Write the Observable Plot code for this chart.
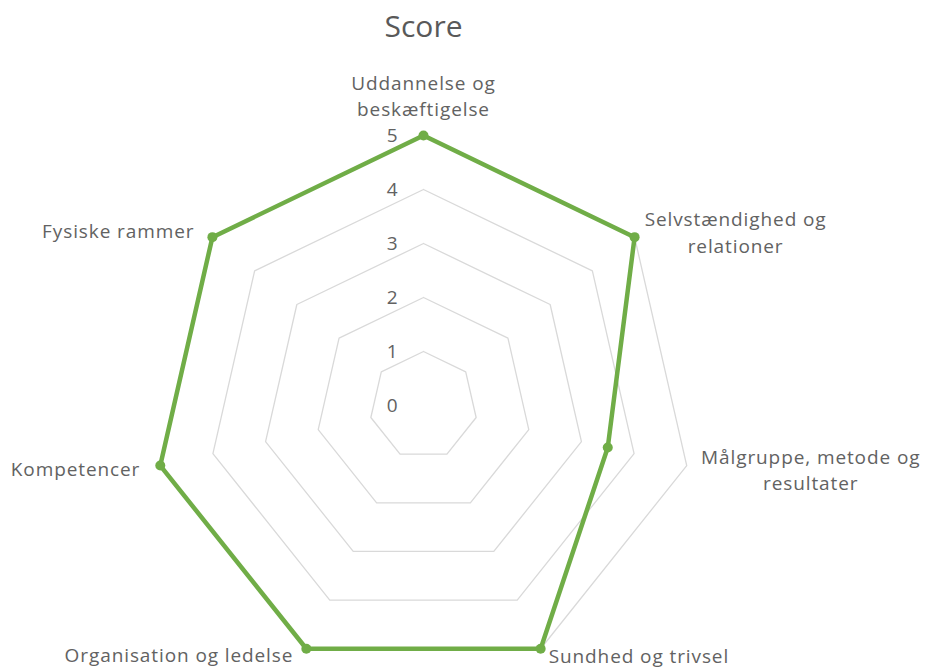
<!DOCTYPE html>
<html>
<head>
<meta charset="utf-8">
<script src="https://cdn.jsdelivr.net/npm/d3@7"></script>
<script src="https://cdn.jsdelivr.net/npm/@observablehq/plot@0.6"></script>
<style>
  html, body { margin: 0; padding: 0; background: #fff; overflow: hidden; }
  #chart { width: 926px; height: 669px; overflow: hidden; }
</style>
</head>
<body>
<div id="chart"></div>
<script>
// ---- data ----
const title = "Score";
const categories = [
  "Uddannelse og\nbeskæftigelse",
  "Selvstændighed og\nrelationer",
  "Målgruppe, metode og\nresultater",
  "Sundhed og trivsel",
  "Organisation og ledelse",
  "Kompetencer",
  "Fysiske rammer"
];
const scores = [5, 5, 3.5, 5, 5, 5, 5];
const tickValues = [0, 1, 2, 3, 4, 5];

// ---- layout ----
const W = 926, H = 669;
const cx = 423, cy = 405, unit = 54;   // pixel centre and pixels per score unit
const n = categories.length;
const ang = i => Math.PI / 2 - i * 2 * Math.PI / n;
const textColor = "#626262";
const font = "Open Sans";

// grid rings (levels 1..max)
const grid = [];
for (const k of tickValues.filter(v => v > 0)) {
  for (let i = 0; i <= n; i++) {
    const a = ang(i % n);
    grid.push({k, x: k * Math.cos(a), y: k * Math.sin(a)});
  }
}

// series points
const pts = scores.map((v, i) => ({cat: categories[i], v, x: v * Math.cos(ang(i)), y: v * Math.sin(ang(i))}));
const closed = [...pts, pts[0]];

// label placement styles (per category): anchor + pixel offsets from outer vertex
const labelStyle = [
  {anchor: "middle", dx: 0,    dy: -41},
  {anchor: "middle", dx: 101,  dy: -6},
  {anchor: "middle", dx: 124,  dy: 3},
  {anchor: "start",  dx: 8,    dy: 6},
  {anchor: "end",    dx: -13,  dy: 5},
  {anchor: "end",    dx: -20,  dy: 2},
  {anchor: "end",    dx: -18,  dy: -8}
];
const rmax = d3.max(tickValues);
const labelMarks = categories.map((c, i) => Plot.text([c], {
  x: () => rmax * Math.cos(ang(i)),
  y: () => rmax * Math.sin(ang(i)),
  text: d => d,
  textAnchor: labelStyle[i].anchor,
  dx: labelStyle[i].dx,
  dy: labelStyle[i].dy,
  lineAnchor: "middle",
  lineHeight: 1.4,
  fontSize: 19,
  fill: textColor
}));

const chart = Plot.plot({
  width: W,
  height: H,
  margin: 0,
  style: {fontFamily: font, background: "#fff", overflow: "hidden"},
  x: {domain: [-cx / unit, (W - cx) / unit], axis: null},
  y: {domain: [-(H - cy) / unit, cy / unit], axis: null},
  marks: [
    Plot.line(grid, {x: "x", y: "y", z: "k", stroke: "#d9d9d9", strokeWidth: 1.3}),
    Plot.line(closed, {x: "x", y: "y", stroke: "#70ad47", strokeWidth: 4.5, strokeLinejoin: "round"}),
    Plot.dot(pts, {x: "x", y: "y", r: 5, fill: "#70ad47", stroke: "none"}),
    Plot.text(tickValues, {x: () => 0, y: d => d, text: d => String(d), textAnchor: "end", dx: -25, fontSize: 19, fill: textColor}),
    ...labelMarks,
    Plot.text([title], {x: () => 0, frameAnchor: "top", text: d => d, dy: 27, lineAnchor: "middle", fontSize: 30, fill: "#595959"})
  ]
});
// widen the category/tick label glyph spacing (reference font renders wide)
d3.select(chart).selectAll("text")
  .filter(function() { return this.textContent !== title; })
  .style("letter-spacing", "0.9px");
document.getElementById("chart").appendChild(chart);
</script>
</body>
</html>
